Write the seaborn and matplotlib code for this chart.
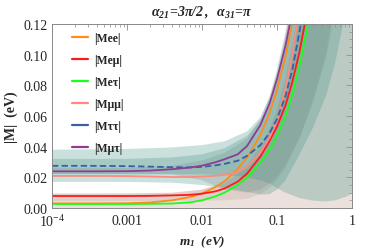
import numpy as np
import pandas as pd
import matplotlib
matplotlib.use('Agg')
import matplotlib.pyplot as plt
import matplotlib.ticker as mticker
from matplotlib.lines import Line2D
import seaborn as sns

# lightest neutrino mass grid (eV) for the curves
m1 = [1e-4, 3e-4, 1e-3, 2e-3, 4e-3, 7e-3, 0.01, 0.015, 0.02, 0.03,
      0.04, 0.06, 0.08, 0.1, 0.13, 0.16, 0.2, 0.25, 0.3]

mee = [0.0030, 0.0030, 0.0031, 0.0036, 0.0050, 0.0072, 0.0095, 0.0135, 0.0175, 0.0255,
       0.0330, 0.0475, 0.0620, 0.0770, 0.0990, 0.1210, 0.1500, 0.1850, 0.2200]
memu = [0.0078, 0.0078, 0.0078, 0.0079, 0.0082, 0.0086, 0.0093, 0.0108, 0.0127, 0.0172,
        0.0225, 0.0335, 0.0440, 0.0530, 0.0670, 0.0820, 0.1020, 0.1270, 0.1520]
metau = [0.0026, 0.0026, 0.0026, 0.0027, 0.0029, 0.0037, 0.0050, 0.0075, 0.0100, 0.0150,
         0.0200, 0.0295, 0.0380, 0.0470, 0.0600, 0.0740, 0.0930, 0.1160, 0.1390]
mmumu = [0.0209, 0.0209, 0.0208, 0.0205, 0.0202, 0.0202, 0.0205, 0.0210, 0.0216, 0.0235,
         0.0270, 0.0360, 0.0460, 0.0570, 0.0780, 0.1000, 0.1300, 0.1650, 0.2000]
mtautau = [0.0275, 0.0275, 0.0273, 0.0270, 0.0266, 0.0265, 0.0268, 0.0278, 0.0288, 0.0308,
           0.0340, 0.0410, 0.0490, 0.0580, 0.0730, 0.0900, 0.1150, 0.1450, 0.1750]
mmutau = [0.0239, 0.0239, 0.0240, 0.0244, 0.0253, 0.0264, 0.0276, 0.0298, 0.0318, 0.0350,
          0.0405, 0.0540, 0.0685, 0.0840, 0.1060, 0.1280, 0.1580, 0.1950, 0.2350]

labels = ['|Mee|', '|Me\u03bc|', '|Me\u03c4|', '|M\u03bc\u03bc|', '|M\u03c4\u03c4|', '|M\u03bc\u03c4|']
colors = ['#ff8c1a', '#ff1a1a', '#1aff1a', '#ff8a80', '#3a5ea8', '#8e3c96']

# band grid and the allowed ranges drawn behind the curves
mb = [1e-4, 1e-3, 4e-3, 0.01, 0.02, 0.04, 0.06, 0.08, 0.1, 0.13, 0.2, 0.3, 0.45, 0.6, 0.8, 1.0]
t1_lo = [0.017, 0.017, 0.0165, 0.015, 0.013, 0.0105, 0.0088, 0.0090, 0.012, 0.018,
         0.035, 0.052, 0.073, 0.095, 0.125, 0.150]
t1_hi = [0.038, 0.0385, 0.0395, 0.041, 0.0435, 0.050, 0.059, 0.073, 0.090, 0.115,
         0.160, 0.220, 0.300, 0.300, 0.300, 0.300]
t2_lo = [0.022, 0.022, 0.022, 0.022, 0.0215, 0.020, 0.018, 0.016, 0.013, 0.010,
         0.0065, 0.0048, 0.0043, 0.005, 0.007, 0.0093]
t2_hi = [0.032, 0.032, 0.033, 0.035, 0.039, 0.047, 0.057, 0.068, 0.082, 0.105,
         0.160, 0.220, 0.300, 0.300, 0.300, 0.300]
g_lo = [0.0222, 0.0222, 0.0220, 0.018, 0.012, 0.010, 0.012, 0.016, 0.020, 0.028,
        0.046, 0.068, 0.098, 0.128, 0.170, 0.210]
g_hi = [0.0262, 0.0262, 0.0275, 0.031, 0.036, 0.045, 0.058, 0.072, 0.088, 0.112,
        0.170, 0.250, 0.300, 0.300, 0.300, 0.300]
p_lo = [0.0, 0.0, 0.0, 0.0, 0.0, 0.0, 0.0, 0.0, 0.0, 0.0, 0.0, 0.0, 0.0, 0.0, 0.0, 0.0]
p_hi = [0.0095, 0.0096, 0.010, 0.012, 0.017, 0.028, 0.040, 0.052, 0.064, 0.085,
        0.130, 0.190, 0.280, 0.300, 0.300, 0.300]
p2_lo = [0.0045, 0.0045, 0.0046, 0.0048, 0.005, 0.006, 0.009, 0.013, 0.018, 0.026,
         0.045, 0.070, 0.100, 0.140, 0.190, 0.240]
p2_hi = [0.0092, 0.0093, 0.0098, 0.012, 0.016, 0.026, 0.037, 0.049, 0.061, 0.080,
         0.125, 0.185, 0.270, 0.300, 0.300, 0.300]

sns.set_style('white')
plt.rcParams['font.family'] = ['Liberation Serif', 'DejaVu Serif']
plt.rcParams['mathtext.fontset'] = 'custom'
plt.rcParams['mathtext.rm'] = 'Liberation Serif'
plt.rcParams['mathtext.it'] = 'Liberation Serif:italic'
plt.rcParams['mathtext.bf'] = 'Liberation Serif:bold'
plt.rcParams['mathtext.bfit'] = 'Liberation Serif:italic:bold'

fig = plt.figure(figsize=(3.74, 2.53), dpi=100)
ax = fig.add_axes([0.139, 0.174, 0.802, 0.727])

# uncertainty bands
ax.fill_between(mb, p_lo, p_hi, color='#c8a89c', alpha=0.35, lw=0)
ax.fill_between(mb, p2_lo, p2_hi, color='#c09a94', alpha=0.25, lw=0)
ax.fill_between(mb, g_lo, g_hi, color='#9a9a9a', alpha=0.3, lw=0)
ax.fill_between(mb, t1_lo, t1_hi, color='#4f998b', alpha=0.3, lw=0)
ax.fill_between(mb, t2_lo, t2_hi, color='#4f998b', alpha=0.3, lw=0)

df = pd.concat([
    pd.DataFrame({'m1': m1, 'M': vals, 'elem': lab})
    for vals, lab in zip([mee, memu, metau, mmumu, mtautau, mmutau], labels)
])
dashes = {lab: '' for lab in labels}
dashes['|M\u03c4\u03c4|'] = (3.5, 1.8)
sns.lineplot(data=df, x='m1', y='M', hue='elem', style='elem', hue_order=labels,
             palette=dict(zip(labels, colors)), dashes=dashes, lw=1.3, ax=ax,
             legend=False)

ax.set_xscale('log')
ax.set_xlim(1e-4, 1)
ax.set_ylim(0, 0.12)
ax.set_xticks([1e-4, 1e-3, 1e-2, 1e-1, 1])
ax.set_xticklabels([r'$10^{-4}$', '0.001', '0.01', '0.1', '1'])
ax.xaxis.set_minor_locator(mticker.LogLocator(base=10, subs=np.arange(2, 10)))
ax.xaxis.set_minor_formatter(mticker.NullFormatter())
ax.set_yticks(np.arange(0, 0.121, 0.02))
ax.yaxis.set_major_formatter(mticker.FormatStrFormatter('%.2f'))
ax.yaxis.set_minor_locator(mticker.MultipleLocator(0.005))
ax.tick_params(which='both', direction='in', top=True, right=True, color='#888888',
               labelsize=10)
ax.tick_params(axis='x', pad=4)
ax.tick_params(axis='y', pad=3)
ax.tick_params(which='major', length=4, width=0.6)
ax.tick_params(which='minor', length=2, width=0.5)
for s in ax.spines.values():
    s.set_color('#888888')
    s.set_linewidth(0.7)

ax.set_xlabel(r'$\mathbfit{m_1\ \ (eV)}$', fontsize=9.5, labelpad=3)
ax.set_ylabel('|M|  (eV)', fontsize=10, fontweight='bold', labelpad=4)
ax.set_title(r'$\mathbfit{\alpha_{21}\!=\!3\pi/2\,,\ \ \alpha_{31}\!=\!\pi}$', fontsize=10, pad=7)

handles = [Line2D([], [], color=c, lw=1.6) for c in colors]
leg = ax.legend(handles, labels, loc='upper left', frameon=False, fontsize=8.5,
                handlelength=1.3, handletextpad=0.55, labelspacing=0.85,
                borderaxespad=0.3, bbox_to_anchor=(0.04, 1.0))
for t in leg.get_texts():
    t.set_fontweight('bold')

fig.savefig('out.png', dpi=100)
